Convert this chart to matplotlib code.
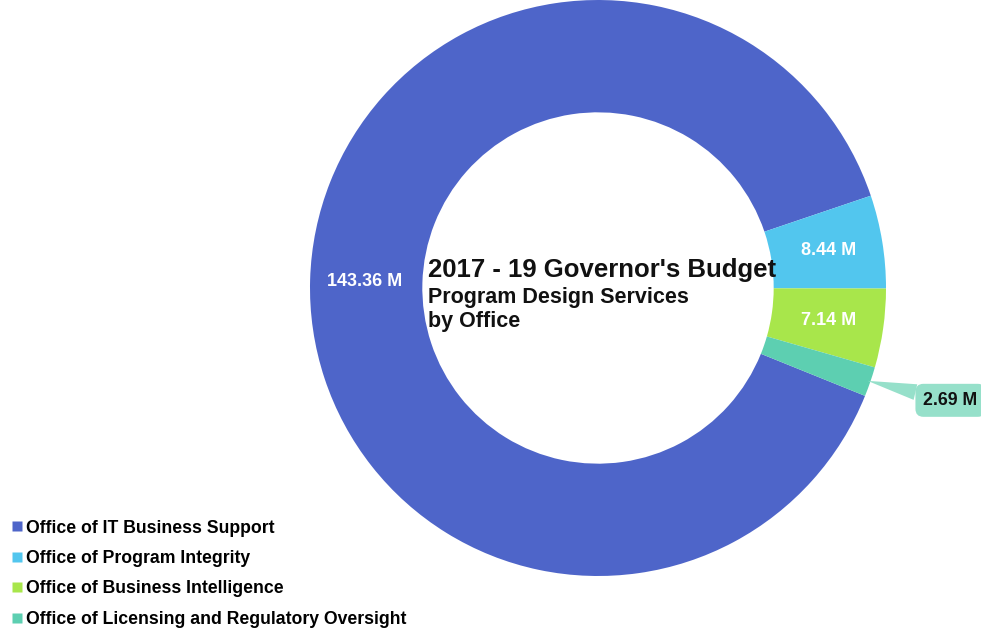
import matplotlib
matplotlib.use("Agg")
import matplotlib.pyplot as plt
from matplotlib.lines import Line2D
import numpy as np

plt.rcParams['font.family'] = ['Liberation Sans', 'DejaVu Sans']

# Budget by office (millions)
offices = [
    "Office of IT Business Support",
    "Office of Program Integrity",
    "Office of Business Intelligence",
    "Office of Licensing and Regulatory Oversight",
]
amounts = [143.36, 8.44, 7.14, 2.69]
value_labels = ["143.36 M", "8.44 M", "7.14 M", "2.69 M"]
colors = ["#4E65C9", "#52C6EE", "#A8E64B", "#5DCFB1"]

W, H = 981, 630
fig = plt.figure(figsize=(W / 100, H / 100), dpi=100)

# Donut placement in pixels
cx, cy, R = 598, 288, 288
ax = fig.add_axes([(cx - R) / W, (H - cy - R) / H, 2 * R / W, 2 * R / H])

ring_width = 0.39
start = 338.0
wedges, _ = ax.pie(amounts, colors=colors, startangle=start, counterclock=False,
                   radius=1.0, wedgeprops=dict(width=ring_width, linewidth=0))
ax.set_xlim(-1, 1)
ax.set_ylim(-1, 1)
ax.set_aspect("equal")
ax.axis("off")

label_r = 0.81
for i, (w, lab) in enumerate(zip(wedges, value_labels)):
    mid = np.deg2rad((w.theta1 + w.theta2) / 2)
    if i < 3:
        ax.text(label_r * np.cos(mid), label_r * np.sin(mid), lab,
                ha="center", va="center", color="white",
                fontsize=13, fontweight="bold")
    else:
        ax.annotate(lab, xy=(0.99 * np.cos(mid), 0.99 * np.sin(mid)),
                    xytext=(1.13, -0.39), ha="left", va="center",
                    fontsize=12.8, fontweight="bold", color="#111111",
                    bbox=dict(boxstyle="round,pad=0.45", fc="#96E0CA",
                              ec="none"),
                    arrowprops=dict(arrowstyle="wedge,tail_width=0.9,shrink_factor=0.5",
                                    fc="#96E0CA", ec="none",
                                    shrinkA=0, shrinkB=0),
                    annotation_clip=False)

# Center title
fig.text(428 / W, 1 - 270 / H, "2017 - 19 Governor's Budget", ha="left",
         va="center", fontsize=18.5, fontweight="bold", color="#111111")
fig.text(428 / W, 1 - 297 / H, "Program Design Services", ha="left",
         va="center", fontsize=15.5, fontweight="bold", color="#111111")
fig.text(428 / W, 1 - 321 / H, "by Office", ha="left",
         va="center", fontsize=15.5, fontweight="bold", color="#111111")

handles = [Line2D([], [], marker="s", linestyle="none", markersize=7,
                  markerfacecolor=c, markeredgecolor="none") for c in colors]
leg = fig.legend(handles, offices, loc="lower left",
                 bbox_to_anchor=(0.0, -0.016), frameon=False,
                 handlelength=0.55, handletextpad=0.2, labelspacing=0.76,
                 borderaxespad=0.3,
                 prop=dict(size=12.7, weight="bold"))

fig.savefig("out.png", dpi=100, facecolor="white")
